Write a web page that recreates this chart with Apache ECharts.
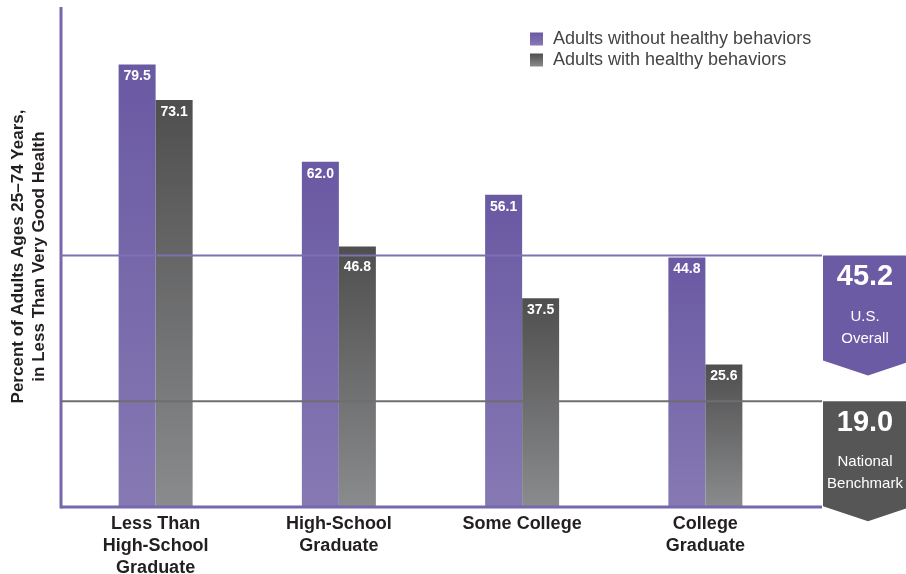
<!DOCTYPE html>
<html><head><meta charset="utf-8">
<script src="https://cdn.jsdelivr.net/npm/echarts@6/dist/echarts.min.js"></script>
<style>html,body{margin:0;padding:0;background:#fff}#chart{width:906px;height:574px}</style>
</head><body><div id="chart"></div>
<script>
// Education level groups and share of adults in less than very good health
const categories = ['Less Than\nHigh-School\nGraduate', 'High-School\nGraduate', 'Some College', 'College\nGraduate'];
const seriesNames = ['Adults without healthy behaviors', 'Adults with healthy behaviors'];
const withoutHealthy = [79.5, 62.0, 56.1, 44.8];
const withHealthy = [73.1, 46.8, 37.5, 25.6];
const usOverall = 45.2;
const nationalBenchmark = 19.0;
const yAxisTitle = 'Percent of Adults Ages 25\u201374 Years,\nin Less Than Very Good Health';
const usOverallText = ['U.S.', 'Overall'];
const benchmarkText = ['National', 'Benchmark'];

const FONT = 'Liberation Sans, Arial, sans-serif';
const NARROW = 'Liberation Sans Narrow, Liberation Sans, Arial, sans-serif';
const PURPLE = '#6b5ba4';
const GRAY = '#565657';
const AXIS_PURPLE = '#7768ad';

const purpleGrad = new echarts.graphic.LinearGradient(0, 0, 0, 1, [
  { offset: 0, color: '#6a59a3' }, { offset: 1, color: '#8679b3' }
]);
const grayGrad = new echarts.graphic.LinearGradient(0, 0, 0, 1, [
  { offset: 0, color: '#4f4f50' }, { offset: 1, color: '#8a8b8c' }
]);

const barLabel = {
  show: true, position: 'insideTop', distance: 5,
  color: '#fff', fontWeight: 'bold', fontSize: 14, fontFamily: NARROW,
  formatter: p => p.value.toFixed(1)
};

// value labels sitting right under a reference line are nudged down to stay readable
function barData(values) {
  return values.map(v => {
    const nearLine = [usOverall, nationalBenchmark].some(r => v > r && v - r < 3);
    return nearLine ? { value: v, label: { distance: 14 } } : v;
  });
}

const chart = echarts.init(document.getElementById('chart'), null, { renderer: 'canvas' });
const option = {
  animation: false,
  backgroundColor: '#fff',
  grid: { left: 64, right: 109, top: 6, bottom: 67, containLabel: false, outerBoundsMode: 'none' },
  legend: {
    orient: 'vertical', left: 525, top: 25, itemWidth: 13, itemHeight: 13, itemGap: 3,
    icon: 'rect',
    textStyle: { fontSize: 18, color: '#444', fontFamily: FONT, padding: [0, 0, 0, 5] },
    data: seriesNames
  },
  xAxis: {
    type: 'category', data: categories,
    axisLine: { show: false }, axisTick: { show: false },
    axisLabel: { color: '#231f20', fontWeight: 'bold', fontSize: 18, lineHeight: 22, margin: 6, fontFamily: FONT, interval: 0 }
  },
  yAxis: {
    type: 'value', min: 0, max: 90,
    name: yAxisTitle, nameLocation: 'middle', nameGap: 14, nameRotate: 90,
    nameTextStyle: { fontWeight: 'bold', fontSize: 17, lineHeight: 21, color: '#231f20', fontFamily: FONT },
    axisLine: { show: false },
    axisTick: { show: false }, axisLabel: { show: false }, splitLine: { show: false }
  },
  series: [
    { name: seriesNames[0], type: 'bar', data: barData(withoutHealthy), barWidth: 37, barGap: '0%',
      itemStyle: { color: purpleGrad }, label: barLabel },
    { name: seriesNames[1], type: 'bar', data: barData(withHealthy), barWidth: 37, barGap: '0%',
      itemStyle: { color: grayGrad }, label: barLabel }
  ]
};
chart.setOption(option);

// Axis frame, reference lines and value badges anchored to the y scale
const yOf = v => chart.convertToPixel({ yAxisIndex: 0 }, v);
const AXIS_X = 61, LINE_R = 822, BADGE_L = 823, BADGE_R = 913;

function badge(value, color, lines) {
  const top = yOf(value);
  const mid = (BADGE_L + BADGE_R) / 2;
  return [
    { type: 'polygon', z: 10,
      shape: { points: [[BADGE_L, top], [BADGE_R, top], [BADGE_R, top + 105], [mid, top + 120], [BADGE_L, top + 105]] },
      style: { fill: color } },
    { type: 'text', z: 11, x: mid - 3, y: top + 22,
      style: { text: value.toFixed(1), fill: '#fff', font: 'bold 29px ' + FONT, align: 'center', verticalAlign: 'middle' } },
    { type: 'text', z: 11, x: mid - 3, y: top + 61,
      style: { text: lines[0], fill: '#fff', font: '15px ' + NARROW, align: 'center', verticalAlign: 'middle' } },
    { type: 'text', z: 11, x: mid - 3, y: top + 83,
      style: { text: lines[1], fill: '#fff', font: '15px ' + NARROW, align: 'center', verticalAlign: 'middle' } }
  ];
}

function hline(value, color, width) {
  const y = yOf(value);
  return { type: 'line', z: 9, shape: { x1: AXIS_X, y1: y, x2: LINE_R, y2: y }, style: { stroke: color, lineWidth: width } };
}

const y0 = yOf(0);
const yTop = yOf(90);
chart.setOption({
  graphic: [
    { type: 'line', z: 9, shape: { x1: AXIS_X, y1: yTop + 1, x2: AXIS_X, y2: y0 + 1.5 }, style: { stroke: AXIS_PURPLE, lineWidth: 3 } },
    hline(0, AXIS_PURPLE, 3),
    hline(usOverall, '#7f70b2', 2),
    hline(nationalBenchmark, '#6e6e70', 2),
    ...badge(usOverall, PURPLE, usOverallText),
    ...badge(nationalBenchmark, GRAY, benchmarkText)
  ]
});
</script>
</body></html>
